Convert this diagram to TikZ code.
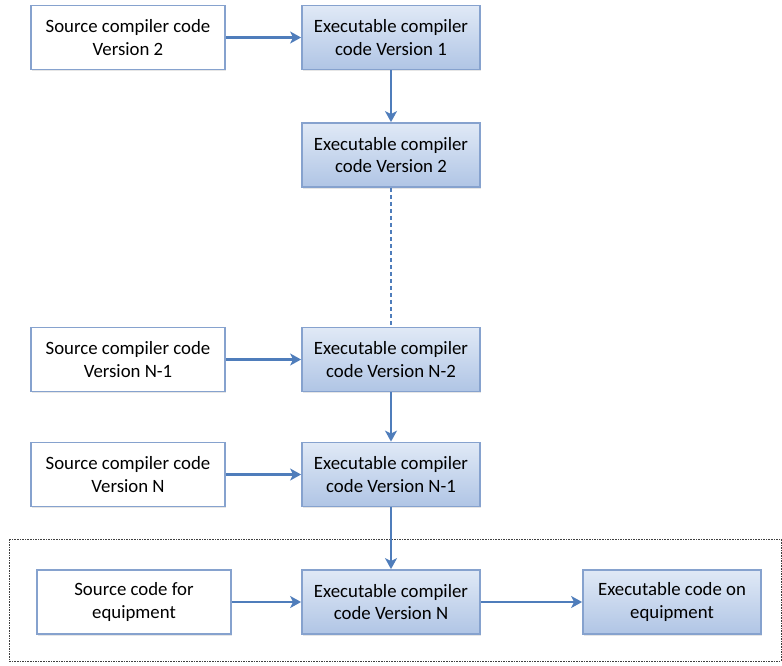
\documentclass[tikz,border=0pt]{standalone}
\usepackage{fontspec}
\setmainfont{Carlito}
\usetikzlibrary{arrows.meta,shadows}
\definecolor{arrowblue}{HTML}{4F7DBB}
\definecolor{boxedge}{HTML}{86A2CE}
\definecolor{bluetop}{HTML}{E0E9F6}
\definecolor{bluebot}{HTML}{B0C5E5}
\tikzset{
  base/.style={rectangle, align=center, font=\fontsize{18.8}{22.5}\selectfont, text=black,
    draw=boxedge, line width=1.8pt, minimum height=64pt, inner sep=0pt,
    drop shadow={opacity=0.2, shadow xshift=1.2pt, shadow yshift=-1.8pt}},
  srcbox/.style={base, fill=white, minimum width=194pt},
  exebox/.style={base, top color=bluetop, bottom color=bluebot, minimum width=178pt},
  conn/.style={draw=arrowblue, line width=2.8pt, -{Stealth[length=11pt,width=12pt,inset=3pt]}},
  dotconn/.style={draw=arrowblue, line width=2.8pt, dash pattern=on 4.5pt off 2.5pt},
  frame/.style={draw=black!75, line width=0.9pt, dash pattern=on 1.6pt off 1pt}
}
\begin{document}
\begin{tikzpicture}[x=1pt,y=-1pt]
\useasboundingbox (0,0) rectangle (782,666);
\draw[frame] (9,539) rectangle (781,661);

\node[srcbox] (s2) at (128,37.5) {Source compiler code\\Version 2};
\node[exebox] (e1) at (391,37.5) {Executable compiler\\code Version 1};
\node[exebox] (e2) at (391,155) {Executable compiler\\code Version 2};
\node[srcbox] (sn1) at (128,359.5) {Source compiler code\\Version N-1};
\node[exebox] (en2) at (391,359.5) {Executable compiler\\code Version N-2};
\node[srcbox] (sn) at (128,474.5) {Source compiler code\\Version N};
\node[exebox] (en1) at (391,474.5) {Executable compiler\\code Version N-1};
\node[srcbox] (seq) at (134,602) {Source code for\\equipment};
\node[exebox] (en) at (391,602) {Executable compiler\\code Version N};
\node[exebox] (xeq) at (672,602) {Executable code on\\equipment};

\draw[conn] (s2) -- (e1);
\draw[conn] (e1) -- (e2);
\draw[dotconn] (e2) -- (en2);
\draw[conn] (sn1) -- (en2);
\draw[conn] (en2) -- (en1);
\draw[conn] (sn) -- (en1);
\draw[conn] (en1) -- (en);
\draw[conn] (seq) -- (en);
\draw[conn] (en) -- (xeq);
\end{tikzpicture}
\end{document}
